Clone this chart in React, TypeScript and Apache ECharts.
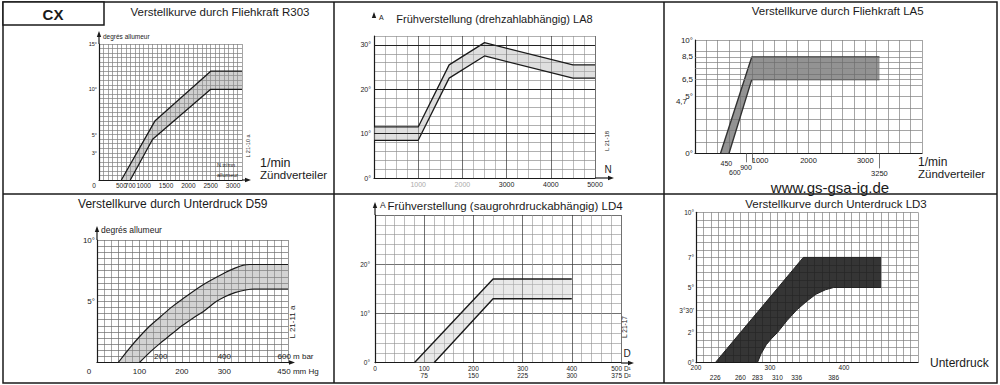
import React, { useEffect, useRef } from 'react';
import * as echarts from 'echarts';

const FF = '"Liberation Sans", Arial, Helvetica, sans-serif';
const INK = '#1a1a1a';

// ---------- Panel 1: Verstellkurve durch Fliehkraft R303 (rpm -> degrees)
const r303Upper = [[500, 0], [1250, 6.5], [2500, 12], [3200, 12]];
const r303Lower = [[700, 0], [1200, 4.5], [2500, 10], [3200, 10]];
const r303XTicks = [0, 500, 700, 1000, 1500, 2000, 2500, 3000];
const r303YTicks = [3, 5, 10, 15];

// ---------- Panel 2: Frühverstellung (drehzahlabhängig) LA8
const la8Upper = [[0, 11.5], [1000, 11.5], [1700, 25.5], [2500, 30.5], [4500, 25.5], [5000, 25.5]];
const la8Lower = [[0, 8.5], [1000, 8.5], [1700, 22.5], [2500, 27.5], [4500, 22.5], [5000, 22.5]];
const la8XTicks = [1000, 2000, 3000, 4000, 5000];
const la8YTicks = [0, 10, 20, 30];
const la8MajorY = [10, 20, 30];

// ---------- Panel 3: Verstellkurve durch Fliehkraft LA5
const la5Upper = [[450, 0], [1000, 8.5], [3250, 8.5]];
const la5Lower = [[600, 0], [1000, 6.5], [3250, 6.5]];
const la5XTicks = [450, 600, 900, 1000, 2000, 3000, 3250];
const la5YTicks = [0, 4.7, 5, 6.5, 8.5, 10];
const la5ExtraY = [6.5, 7.5, 8.5];
const la5MarkTicks = [900, 1000];
const la5LongTicks = [3250];

// ---------- Panel 4: Verstellkurve durch Unterdruck D59 (mm Hg)
const d59Upper = [[50, 0], [75, 1.1], [100, 2.1], [125, 3.0], [150, 3.75], [175, 4.5], [200, 5.15], [250, 6.35], [300, 7.3], [325, 7.7], [345, 7.95], [360, 8], [450, 8]];
const d59Lower = [[100, 0], [125, 0.85], [150, 1.6], [175, 2.3], [200, 3.0], [225, 3.6], [250, 4.15], [280, 4.95], [300, 5.35], [325, 5.7], [350, 5.92], [370, 6], [450, 6]];
const d59XTicks = [0, 100, 200, 300, 400, 450];
const d59MbarTicks = [200, 400, 600];
const d59YTicks = [5, 10];

// ---------- Panel 5: Frühverstellung (saugrohrdruckabhängig) LD4
const ld4Upper = [[80, 0], [240, 17], [400, 17]];
const ld4Lower = [[120, 0], [240, 13], [400, 13]];
const ld4XTicks = [0, 100, 200, 300, 400, 500];
const ld4XSecond = ['', '75', '150', '225', '300', '375 D²'];
const ld4YTicks = [0, 10, 20];

// ---------- Panel 6: Verstellkurve durch Unterdruck LD3
const ld3Upper = [[226, 0], [260, 2], [345, 7], [450, 7]];
const ld3Lower = [[283, 0], [288, 0.6], [295, 1.2], [302, 1.6], [310, 2], [323, 2.8], [336, 3.5], [350, 4.1], [362, 4.55], [375, 4.85], [386, 5], [450, 5]];
const ld3XRow1 = [200, 300, 400];
const ld3XRow2 = [226, 260, 283, 310, 336, 386];
const ld3YTicks = [0, 2, 3.5, 5, 7, 10];

const plain = (v: number) => String(v);

function bandSeries(idx: number, upper: number[][], lower: number[][], fill: string, stroke: string, width: number, extra: any = {}) {
  const poly = [...upper, ...lower.slice().reverse()];
  return [
    {
      type: 'custom', xAxisIndex: idx, yAxisIndex: idx, silent: true, z: 2,
      data: [upper[0]],
      renderItem: (params: any, api: any) => {
        if (params.dataIndex !== 0) return null;
        return { type: 'polygon', shape: { points: poly.map((p) => api.coord(p)) }, style: { fill, stroke: 'none' } };
      },
    },
    { type: 'line', xAxisIndex: idx, yAxisIndex: idx, data: upper, symbol: 'none', silent: true, z: 3, lineStyle: { color: stroke, width }, ...extra },
    { type: 'line', xAxisIndex: idx, yAxisIndex: idx, data: lower, symbol: 'none', silent: true, z: 3, lineStyle: { color: stroke, width }, smooth: extra.smooth },
  ];
}

function gridAxis(gi: number, min: number, max: number, interval: number, minorN: number, majorColor: string, minorColor: string, axisLabel: any) {
  return {
    type: 'value', gridIndex: gi, min, max, interval,
    axisLine: { show: true, lineStyle: { color: INK, width: 1.2 } },
    axisTick: { show: false },
    minorTick: { show: false, splitNumber: minorN || 1 },
    splitLine: { show: true, lineStyle: { color: majorColor, width: 0.7 } },
    minorSplitLine: { show: !!minorN, lineStyle: { color: minorColor, width: 0.6 } },
    axisLabel: { fontFamily: FF, color: INK, showMinLabel: true, showMaxLabel: true, hideOverlap: false, formatter: plain, ...axisLabel },
  };
}

function labelAxis(gi: number, min: number, max: number, axisLabel: any) {
  return {
    type: 'value', gridIndex: gi, min, max, position: 'bottom',
    axisLine: { show: false, lineStyle: { color: INK } }, axisTick: { show: false }, splitLine: { show: false }, minorSplitLine: { show: false },
    axisLabel: { fontFamily: FF, color: INK, showMinLabel: true, showMaxLabel: true, hideOverlap: false, formatter: plain, ...axisLabel },
  };
}

function tickAxis(gi: number, min: number, max: number, values: number[], length: number) {
  return {
    type: 'value', gridIndex: gi, min, max, position: 'bottom',
    axisLine: { show: false, lineStyle: { color: INK } }, splitLine: { show: false }, axisLabel: { show: false },
    axisTick: { show: true, customValues: values, length, lineStyle: { color: '#555', width: 0.8 } },
  };
}

const txt = (x: number, y: number, text: string, size: number, o: any = {}) => ({
  type: 'text', x, y, rotation: o.rot || 0, z: 50, silent: true,
  style: {
    text, fontSize: size, fontFamily: FF, fill: INK, fontWeight: o.weight || 'normal',
    align: o.align || 'left', verticalAlign: 'middle', textAlign: o.align || 'left', textVerticalAlign: 'middle',
  },
});
const seg = (x1: number, y1: number, x2: number, y2: number, w = 1.2) => ({ type: 'line', z: 50, silent: true, shape: { x1, y1, x2, y2 }, style: { stroke: INK, lineWidth: w } });
const arrowUp = (x: number, y: number) => ({ type: 'polygon', z: 50, silent: true, shape: { points: [[x, y], [x - 2.2, y + 6], [x + 2.2, y + 6]] }, style: { fill: INK } });
const arrowRight = (x: number, y: number) => ({ type: 'polygon', z: 50, silent: true, shape: { points: [[x, y], [x - 6, y - 2.2], [x - 6, y + 2.2]] }, style: { fill: INK } });

export default function App() {
  const ref = useRef<HTMLDivElement>(null);
  useEffect(() => {
    if (!ref.current) return;
    const chart = echarts.init(ref.current, undefined, { renderer: 'svg' });
    const grids = [
      { left: 99, top: 44, width: 143, height: 136 },
      { left: 374, top: 36, width: 221, height: 142 },
      { left: 695, top: 40, width: 227, height: 113.3 },
      { left: 97, top: 240, width: 191, height: 122.5 },
      { left: 375, top: 215, width: 246, height: 147.7 },
      { left: 696, top: 212.3, width: 222, height: 150.4 },
    ].map((g) => ({ ...g, containLabel: false, outerBoundsMode: 'none' }));

    const lbl = (size: number, extra: any = {}) => ({ fontSize: size, fontFamily: FF, color: INK, ...extra });
    const la5 = (vals: number[]) => la5XTicks.filter((v) => vals.indexOf(v) >= 0);

    const xAxis: any[] = [
      // 0: R303
      gridAxis(0, 0, 3200, 100, 0, '#7e7e7e', '#7e7e7e', {
        customValues: r303XTicks, fontSize: 6.5, margin: 2,
        formatter: (v: number) => (v === 0 ? '{t|0}{sp| }' : String(v)),
        rich: { t: lbl(6.5), sp: { width: 10, fontSize: 6.5 } },
      }),
      // 1: LA8
      gridAxis(1, 0, 5000, 1000, 4, '#333', '#8e8e8e', {
        customValues: la8XTicks, fontSize: 7, margin: 3,
        formatter: (v: number) => (v <= 2000 ? `{f|${v}}` : String(v)),
        rich: { f: lbl(7, { color: '#aaa' }) },
      }),
      // 2: LA5 grid + centred first-row labels
      gridAxis(2, 0, 4000, 200, 0, '#7e7e7e', '#7e7e7e', {
        customValues: la5([2000, 3000]), fontSize: 7.5, margin: 3,
      }),
      // 3: D59
      gridAxis(3, 0, 450, 50, 3, '#6a6a6a', '#6a6a6a', {
        customValues: d59XTicks, fontSize: 8, margin: 5,
        formatter: (v: number) => (v === 0 ? '{t|0}{sp| }' : v === 450 ? '{sp2| }{t|450 mm Hg}' : String(v)),
        rich: { t: lbl(8), sp: { width: 16, fontSize: 8 }, sp2: { width: 20, fontSize: 8 } },
      }),
      // 4: LD4
      gridAxis(4, 0, 500, 100, 5, '#333', '#8e8e8e', {
        customValues: ld4XTicks, fontSize: 6.5, margin: 3, lineHeight: 6.5,
        formatter: (v: number) => {
          const i = ld4XTicks.indexOf(v);
          const first = v === 500 ? '500 D¹' : String(v);
          return ld4XSecond[i] ? `${first}\n${ld4XSecond[i]}` : first;
        },
      }),
      // 5: LD3 (first label row)
      gridAxis(5, 200, 500, 10, 0, '#7e7e7e', '#7e7e7e', {
        customValues: ld3XRow1, fontSize: 6.5, margin: 2, lineHeight: 6.5,
      }),
      // 6: D59 secondary mbar scale
      labelAxis(3, 0, 600, {
        inside: true, margin: 2, customValues: d59MbarTicks, fontSize: 8,
        formatter: (v: number) => (v === 600 ? '{sp| }{t|600 m bar}' : String(v)),
        rich: { t: lbl(8), sp: { width: 15, fontSize: 8 } },
      }),
      // 7-8: LA5 marker ticks below the axis
      tickAxis(2, 0, 4000, la5MarkTicks, 9),
      tickAxis(2, 0, 4000, la5LongTicks, 15),
      // 9-13: LA5 staggered labels
      labelAxis(2, 0, 4000, { customValues: la5([1000]), fontSize: 7.5, margin: 3, align: 'left' }),
      labelAxis(2, 0, 4000, { customValues: la5([450]), fontSize: 7, margin: 7, align: 'left' }),
      labelAxis(2, 0, 4000, {
        customValues: la5([900]), fontSize: 7, margin: 11,
        formatter: (v: number) => `{k|${v}}`,
        rich: { k: lbl(7, { color: '#111111' }) },
      }),
      labelAxis(2, 0, 4000, { customValues: la5([600]), fontSize: 7, margin: 15.5, align: 'left' }),
      labelAxis(2, 0, 4000, { customValues: la5([3250]), fontSize: 7.5, margin: 16 }),
      // 14: LD3 second label row
      labelAxis(5, 200, 500, { customValues: ld3XRow2, fontSize: 6.5, margin: 12, lineHeight: 6.5 }),
    ];

    const yAxis: any[] = [
      gridAxis(0, 0, 15, 0.5, 0, '#7e7e7e', '#7e7e7e', { customValues: r303YTicks, fontSize: 5.5, margin: 2, formatter: (v: number) => `${v}°` }),
      gridAxis(1, 0, 32, 2, 0, '#8e8e8e', '#8e8e8e', { customValues: la8YTicks, fontSize: 7, margin: 3, formatter: (v: number) => `${v}°` }),
      gridAxis(2, 0, 10, 1, 0, '#7e7e7e', '#7e7e7e', {
        customValues: la5YTicks, fontSize: 8, margin: 2,
        formatter: (v: number) => {
          if (v === 4.7) return '{s|4,7}';
          if (v === 6.5 || v === 8.5) return String(v).replace('.', ',');
          return `${v}°`;
        },
        rich: { s: lbl(8, { padding: [3, 6, 0, 0] }) },
      }),
      gridAxis(3, 0, 10, 0.5, 0, '#6a6a6a', '#6a6a6a', { customValues: d59YTicks, fontSize: 8, margin: 2, formatter: (v: number) => `${v}°` }),
      gridAxis(4, 0, 30, 10, 5, '#333', '#8e8e8e', { customValues: ld4YTicks, fontSize: 6.5, margin: 5, formatter: (v: number) => `${v}°` }),
      gridAxis(5, 0, 10, 0.5, 0, '#7e7e7e', '#7e7e7e', {
        customValues: ld3YTicks, fontSize: 6.5, margin: 2,
        formatter: (v: number) => (v === 3.5 ? "3°30'" : `${v}°`),
      }),
    ];

    const series: any[] = [
      ...bandSeries(0, r303Upper, r303Lower, 'rgba(150,150,150,0.45)', INK, 1.3),
      ...bandSeries(1, la8Upper, la8Lower, 'rgba(185,185,185,0.45)', INK, 1.3, {
        markLine: {
          silent: true, symbol: ['none', 'none'], label: { show: false }, animation: false,
          lineStyle: { color: '#222', width: 1, type: 'solid' },
          data: la8MajorY.map((v) => ({ yAxis: v })),
        },
      }),
      ...bandSeries(2, la5Upper, la5Lower, 'rgba(105,105,105,0.72)', '#333', 1.4, {
        markLine: {
          silent: true, symbol: ['none', 'none'], label: { show: false }, animation: false,
          lineStyle: { color: '#7e7e7e', width: 0.7, type: 'solid' },
          data: la5ExtraY.map((v) => ({ yAxis: v })),
        },
      }),
      ...bandSeries(3, d59Upper, d59Lower, 'rgba(150,150,150,0.42)', INK, 1.2, { smooth: 0.3 }),
      ...bandSeries(4, ld4Upper, ld4Lower, 'rgba(200,200,200,0.4)', INK, 1.4),
      ...bandSeries(5, ld3Upper, ld3Lower, 'rgba(25,25,25,0.88)', '#222', 1),
    ];

    const graphic: any[] = [
      { type: 'rect', z: 60, silent: true, shape: { x: 3, y: 2, width: 994, height: 381 }, style: { fill: 'none', stroke: INK, lineWidth: 1.5 } },
      seg(334, 2, 334, 383, 1.5), seg(664, 2, 664, 383, 1.5), seg(3, 194, 997, 194, 1.5),
      { type: 'rect', z: 60, silent: true, shape: { x: 3, y: 2, width: 101, height: 23 }, style: { fill: '#fff', stroke: INK, lineWidth: 1.5 } },
      { ...txt(53, 14, 'CX', 15, { align: 'center', weight: 'bold' }), z: 61 },
      txt(220, 12, 'Verstellkurve durch Fliehkraft R303', 11.5, { align: 'center' }),
      txt(494.5, 19, 'Frühverstellung (drehzahlabhängig) LA8', 11, { align: 'center' }),
      txt(837.7, 11, 'Verstellkurve durch Fliehkraft LA5', 11.5, { align: 'center' }),
      txt(172.8, 204, 'Verstellkurve durch Unterdruck D59', 12, { align: 'center' }),
      txt(505, 205.7, 'Frühverstellung (saugrohrdruckabhängig) LD4', 11.5, { align: 'center' }),
      txt(836, 204, 'Verstellkurve durch Unterdruck LD3', 11.5, { align: 'center' }),
      // panel 1 annotations
      txt(103, 36, 'degrés allumeur', 6.5),
      txt(260, 163, '1/min', 12.5),
      txt(260, 175, 'Zündverteiler', 11.5),
      txt(217, 165, 'N tr/mn', 5.5),
      txt(217, 175, 'allumeur', 5.5),
      txt(248, 146, 'L 21-10 a', 5.5, { align: 'center', rot: Math.PI / 2 }),
      seg(99, 44, 99, 36), arrowUp(99, 31),
      seg(242, 180, 247, 180), arrowRight(251, 180),
      // panel 2
      arrowUp(374, 12), txt(379, 17, 'A', 7),
      seg(595, 178, 610, 178), arrowRight(614, 178),
      txt(608, 169, 'N', 10, { align: 'center' }),
      txt(607, 141, 'L 21-18', 6, { align: 'center', rot: Math.PI / 2 }),
      // panel 3
      txt(918, 162, '1/min', 12),
      txt(918, 174, 'Zündverteiler', 11.5),
      txt(830, 187, 'www.gs-gsa-ig.de', 15, { align: 'center' }),
      // panel 4
      txt(101, 230, 'degrés allumeur', 8.5),
      seg(97, 240, 97, 231), arrowUp(97, 226),
      seg(288, 362.5, 291, 362.5), arrowRight(295, 362.5),
      txt(292, 322, 'L 21-11 a', 8, { align: 'center', rot: Math.PI / 2 }),
      // panel 5
      seg(375, 215, 375, 208), arrowUp(375, 202), txt(380, 205, 'A', 8.5),
      seg(621, 363, 630, 363), arrowRight(634, 363),
      txt(627, 353, 'D', 10, { align: 'center' }),
      txt(624, 327, 'L 21-17', 6.5, { align: 'center', rot: Math.PI / 2 }),
      // panel 6
      txt(930, 363, 'Unterdruck', 12),
    ];

    chart.setOption({
      animation: false,
      backgroundColor: '#ffffff',
      textStyle: { fontFamily: FF },
      grid: grids,
      xAxis,
      yAxis,
      series,
      graphic: { elements: graphic },
    });
    return () => chart.dispose();
  }, []);
  return <div ref={ref} style={{ position: 'absolute', left: 0, top: 0, width: 1000, height: 385 }} />;
}
